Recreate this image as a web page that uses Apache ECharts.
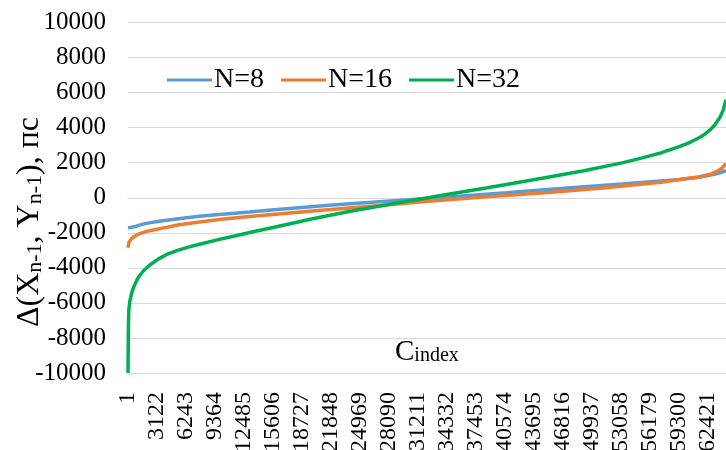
<!DOCTYPE html>
<html>
<head>
<meta charset="utf-8">
<script src="https://cdn.jsdelivr.net/npm/echarts@6/dist/echarts.min.js"></script>
<style>
html,body{margin:0;padding:0;background:#fff;}
#chart{width:726px;height:450px;}
</style>
</head>
<body>
<div id="chart"></div>
<script>
// x-axis tick labels (category indices)
const xTickLabels = [1, 3122, 6243, 9364, 12485, 15606, 18727, 21848, 24969, 28090,
  31211, 34332, 37453, 40574, 43695, 46816, 49937, 53058, 56179, 59300, 62421];
const yTicks = [-10000, -8000, -6000, -4000, -2000, 0, 2000, 4000, 6000, 8000, 10000];

// N=8
const n8Index  = [1, 300, 800, 1130, 1800, 2430, 3200, 3940, 5880, 7700, 9500, 13100, 15750, 22000, 28240, 34500, 40750, 46990, 53200, 59450, 61500, 62360, 63500, 64410];
const n8Values = [-1720, -1690, -1640, -1580, -1480, -1420, -1360, -1300, -1170, -1060, -970, -810, -690, -420, -180, 50, 290, 540, 780, 1040, 1170, 1250, 1380, 1550];

// N=16
const n16Index  = [1, 100, 346, 700, 1130, 2000, 3246, 4119, 5500, 7709, 10300, 13100, 19890, 26140, 32400, 38650, 44900, 51150, 57400, 60000, 61610, 62800, 63440, 64000, 64410];
const n16Values = [-2850, -2550, -2350, -2200, -2080, -1920, -1780, -1690, -1540, -1380, -1210, -1070, -760, -480, -200, 50, 290, 560, 880, 1080, 1200, 1360, 1500, 1700, 1950];

// N=32
const n32Index  = [1, 40, 87, 200, 346, 500, 700, 1000, 1240, 1700, 2318, 3246, 4119, 5337, 6500, 7709, 9500, 11590, 13600, 15750, 19890, 24090, 28240, 30740, 34500, 37600, 40750, 44900, 49100, 53200, 55300, 57400, 59450, 60600, 61610, 62200, 62690, 63200, 63770, 64100, 64410];
const n32Values = [-10000, -7500, -6400, -5900, -5550, -5250, -5000, -4650, -4450, -4150, -3850, -3500, -3250, -3000, -2820, -2650, -2420, -2170, -1930, -1680, -1200, -760, -370, -140, 200, 470, 760, 1140, 1540, 1990, 2260, 2560, 2930, 3180, 3450, 3650, 3870, 4150, 4600, 5000, 5600];

const seriesNames = ['N=8', 'N=16', 'N=32'];
const seriesColors = ['#5B9BD5', '#ED7D31', '#00B050'];
const yTitle = '{a|Δ(X}{s|n-1}{a|, Y}{s|n-1}{a|), пс}';
const xTitle = '{c|C}{s|index}';

const pairs = (xs, ys) => xs.map((x, i) => [x, ys[i]]);
const serif = '"Liberation Serif", "DejaVu Serif", serif';

const chart = echarts.init(document.getElementById('chart'));
chart.setOption({
  animation: false,
  backgroundColor: '#fff',
  color: seriesColors,
  grid: { left: 128, right: 0, top: 22.5, bottom: 77, containLabel: false, outerBoundsMode: 'none' },
  title: {
    text: xTitle,
    left: 390, top: 333,
    textStyle: {
      fontWeight: 'normal',
      rich: {
        c: { fontFamily: serif, fontSize: 29, fontWeight: 'normal', color: '#000', lineHeight: 28, verticalAlign: 'top' },
        s: { fontFamily: serif, fontSize: 20, fontWeight: 'normal', color: '#000', lineHeight: 20, verticalAlign: 'bottom', padding: [11, 0, 0, 0] }
      }
    }
  },
  graphic: [{
    type: 'text',
    x: 30, y: 222,
    rotation: Math.PI / 2,
    silent: true,
    style: {
      text: yTitle,
      align: 'center',
      verticalAlign: 'middle',
      rich: {
        a: { fontFamily: serif, fontSize: 32, fill: '#000', lineHeight: 32, verticalAlign: 'top' },
        s: { fontFamily: serif, fontSize: 22, fill: '#000', lineHeight: 22, verticalAlign: 'bottom', padding: [14, 0, 0, 0] }
      }
    }
  }],
  legend: {
    data: seriesNames,
    left: 162, top: 61,
    icon: 'rect', itemWidth: 45, itemHeight: 3, itemGap: 17,
    textStyle: { fontFamily: serif, fontSize: 28, color: '#000', padding: [0, 0, 0, -3] }
  },
  xAxis: {
    type: 'value', min: 1, max: 64410,
    axisLine: { show: true, lineStyle: { color: '#d9d9d9', width: 1 } },
    axisTick: { show: false },
    splitLine: { show: false },
    axisLabel: {
      customValues: xTickLabels,
      formatter: v => String(v),
      rotate: 90, margin: 19,
      fontFamily: serif, fontSize: 24, color: '#000'
    }
  },
  yAxis: {
    type: 'value', min: yTicks[0], max: yTicks[yTicks.length - 1], interval: 2000,
    axisLine: { show: false },
    axisTick: { show: false },
    splitLine: { lineStyle: { color: '#d9d9d9', width: 1 } },
    axisLabel: { margin: 22, formatter: v => String(v), fontFamily: serif, fontSize: 25, color: '#000' }
  },
  series: [
    { name: seriesNames[0], type: 'line', data: pairs(n8Index, n8Values), showSymbol: false, lineStyle: { width: 3.5 } },
    { name: seriesNames[1], type: 'line', data: pairs(n16Index, n16Values), showSymbol: false, lineStyle: { width: 3.5 } },
    { name: seriesNames[2], type: 'line', data: pairs(n32Index, n32Values), showSymbol: false, lineStyle: { width: 3.5 } }
  ]
});
</script>
</body>
</html>
